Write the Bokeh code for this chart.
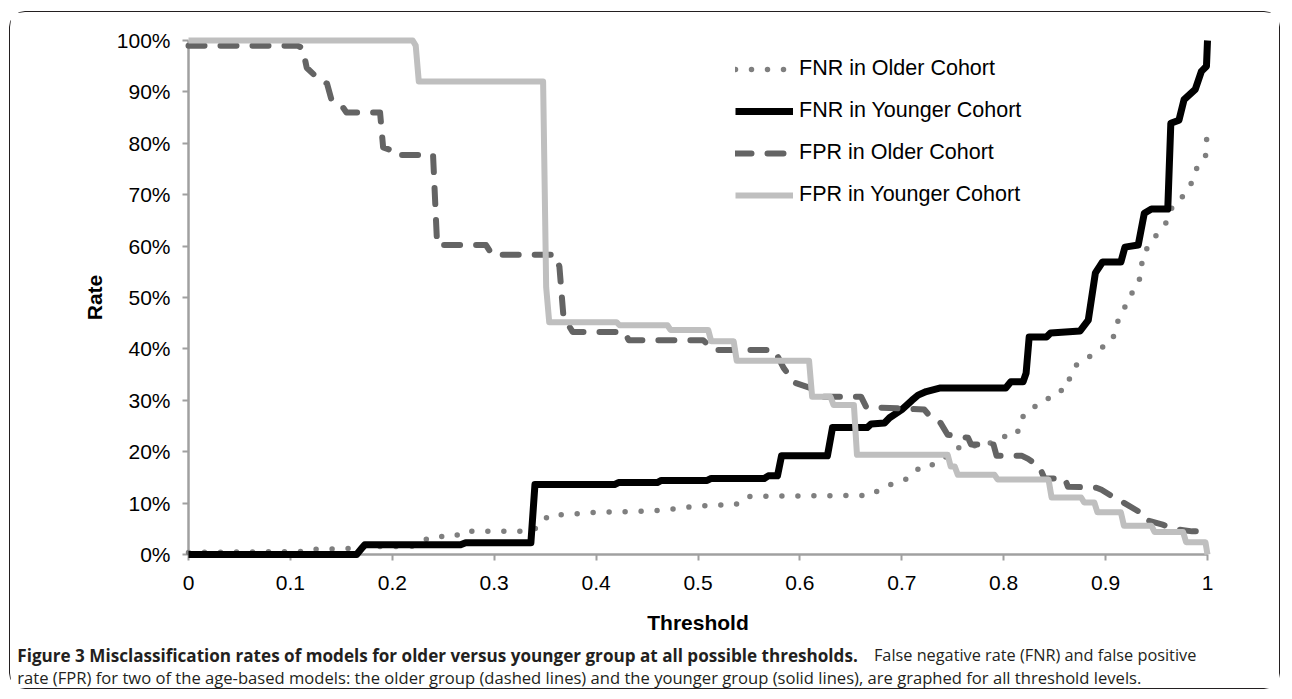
from bokeh.plotting import figure
from bokeh.models import Legend, LegendItem, FixedTicker, Range1d
from bokeh.core.properties import value
from bokeh.embed import file_html
from bokeh.resources import INLINE

# ---------------- data ----------------
x_ticks = [0, 0.1, 0.2, 0.3, 0.4, 0.5, 0.6, 0.7, 0.8, 0.9, 1]
x_tick_labels = ["0", "0.1", "0.2", "0.3", "0.4", "0.5", "0.6", "0.7", "0.8", "0.9", "1"]
y_ticks = [0, 0.1, 0.2, 0.3, 0.4, 0.5, 0.6, 0.7, 0.8, 0.9, 1]
y_tick_labels = ["0%", "10%", "20%", "30%", "40%", "50%", "60%", "70%", "80%", "90%", "100%"]

series_names = ["FNR in Older Cohort", "FNR in Younger Cohort",
                "FPR in Older Cohort", "FPR in Younger Cohort"]

fnr_old_x = [0.000, 0.120, 0.125, 0.160, 0.172, 0.220, 0.228, 0.240, 0.262, 0.268,
             0.333, 0.345, 0.353, 0.370, 0.400, 0.445, 0.470, 0.490, 0.515, 0.537,
             0.547, 0.670, 0.683, 0.699, 0.710, 0.719, 0.733, 0.756, 0.785, 0.798,
             0.813, 0.817, 0.826, 0.839, 0.849, 0.862, 0.866, 0.873, 0.885, 0.896,
             0.907, 0.910, 0.917, 0.922, 0.931, 0.935, 0.936, 0.943, 0.952, 0.960,
             0.966, 0.976, 0.984, 0.989, 0.998, 1.000]
fnr_old_y = [0.004, 0.006, 0.010, 0.012, 0.015, 0.016, 0.025, 0.035, 0.035, 0.045,
             0.045, 0.054, 0.076, 0.078, 0.082, 0.084, 0.087, 0.092, 0.096, 0.097,
             0.113, 0.115, 0.133, 0.141, 0.153, 0.173, 0.175, 0.208, 0.215, 0.229,
             0.233, 0.264, 0.285, 0.293, 0.315, 0.322, 0.353, 0.373, 0.386, 0.402,
             0.417, 0.447, 0.470, 0.500, 0.520, 0.548, 0.579, 0.604, 0.627, 0.647,
             0.680, 0.697, 0.722, 0.750, 0.773, 0.833]

fnr_young_x = [0.000, 0.165, 0.170, 0.173, 0.267, 0.272, 0.336, 0.340, 0.418, 0.422,
               0.460, 0.464, 0.509, 0.513, 0.565, 0.569, 0.578, 0.582, 0.627, 0.632,
               0.666, 0.670, 0.683, 0.688, 0.700, 0.710, 0.716, 0.724, 0.738, 0.802,
               0.807, 0.819, 0.822, 0.825, 0.842, 0.846, 0.875, 0.883, 0.890, 0.897,
               0.915, 0.919, 0.932, 0.938, 0.945, 0.961, 0.964, 0.972, 0.977, 0.988,
               0.994, 0.999, 1.000]
fnr_young_y = [0.000, 0.000, 0.012, 0.019, 0.019, 0.023, 0.023, 0.136, 0.136, 0.140,
               0.140, 0.144, 0.144, 0.148, 0.148, 0.153, 0.153, 0.192, 0.192, 0.247,
               0.247, 0.254, 0.256, 0.266, 0.282, 0.300, 0.310, 0.317, 0.324, 0.324,
               0.336, 0.336, 0.353, 0.423, 0.423, 0.431, 0.435, 0.456, 0.548, 0.569,
               0.569, 0.598, 0.602, 0.664, 0.672, 0.672, 0.839, 0.845, 0.885, 0.905,
               0.940, 0.950, 1.000]

fpr_old_x = [0.000, 0.107, 0.112, 0.116, 0.126, 0.136, 0.140, 0.149, 0.155, 0.188,
             0.191, 0.200, 0.203, 0.240, 0.244, 0.292, 0.298, 0.360, 0.364, 0.368,
             0.377, 0.428, 0.432, 0.505, 0.515, 0.575, 0.584, 0.595, 0.610, 0.620,
             0.660, 0.665, 0.722, 0.728, 0.738, 0.745, 0.765, 0.768, 0.790, 0.793,
             0.818, 0.824, 0.835, 0.840, 0.860, 0.863, 0.891, 0.896, 0.909, 0.916,
             0.933, 0.938, 0.956, 0.970, 0.985, 0.997, 1.000]
fpr_old_y = [0.990, 0.990, 0.985, 0.947, 0.928, 0.916, 0.887, 0.877, 0.860, 0.860,
             0.792, 0.786, 0.777, 0.777, 0.602, 0.602, 0.583, 0.583, 0.560, 0.462,
             0.433, 0.433, 0.417, 0.417, 0.398, 0.398, 0.363, 0.334, 0.324, 0.307,
             0.307, 0.287, 0.282, 0.268, 0.256, 0.233, 0.227, 0.214, 0.214, 0.192,
             0.192, 0.186, 0.171, 0.148, 0.148, 0.132, 0.130, 0.126, 0.110, 0.103,
             0.083, 0.068, 0.058, 0.049, 0.045, 0.045, 0.033]

fpr_young_x = [0.000, 0.220, 0.223, 0.226, 0.348, 0.351, 0.354, 0.420, 0.423, 0.470,
               0.473, 0.510, 0.513, 0.535, 0.538, 0.609, 0.612, 0.630, 0.633, 0.653,
               0.656, 0.745, 0.748, 0.752, 0.755, 0.791, 0.794, 0.844, 0.847, 0.876,
               0.879, 0.889, 0.892, 0.915, 0.918, 0.945, 0.948, 0.976, 0.979, 0.998,
               1.000]
fpr_young_y = [1.000, 1.000, 0.990, 0.920, 0.920, 0.520, 0.452, 0.452, 0.446, 0.446,
               0.437, 0.437, 0.415, 0.415, 0.377, 0.377, 0.307, 0.307, 0.291, 0.291,
               0.194, 0.194, 0.171, 0.171, 0.155, 0.155, 0.146, 0.146, 0.111, 0.111,
               0.101, 0.101, 0.082, 0.082, 0.056, 0.056, 0.044, 0.044, 0.024, 0.024,
               0.000]

caption_bold = "Figure 3 Misclassification rates of models for older versus younger group at all possible thresholds."
caption_rest1 = "False negative rate (FNR) and false positive"
caption_line2 = ("rate (FPR) for two of the age-based models: the older group (dashed lines) "
                 "and the younger group (solid lines), are graphed for all threshold levels.")

# ---------------- figure ----------------
FONT = "Liberation Sans"
CAP_FONT = "Open Sans"

p = figure(width=1271, height=678, output_backend="svg", toolbar_location=None,
           x_range=Range1d(0, 1), y_range=Range1d(0, 1),
           min_border_left=178, min_border_right=74, min_border_top=28,
           min_border_bottom=136)
p.styles = {"border": "1.5px solid #231f20", "border-radius": "16px",
            "margin-left": "9px", "margin-top": "11px"}
p.xgrid.visible = False
p.ygrid.visible = False
p.outline_line_color = None
p.background_fill_color = "white"
p.border_fill_color = "white"

for ax in (p.xaxis[0], p.yaxis[0]):
    ax.axis_line_color = "#a0a0a0"
    ax.axis_line_width = 2.5
    ax.major_tick_line_color = "#a0a0a0"
    ax.major_tick_line_width = 2
    ax.major_tick_out = 6
    ax.major_tick_in = 0
    ax.minor_tick_line_color = None
    ax.major_label_text_font = FONT
    ax.major_label_text_font_size = "21px"
    ax.major_label_text_color = "black"
    ax.axis_label_text_font = FONT
    ax.axis_label_text_font_size = "21px"
    ax.axis_label_text_font_style = "bold"
    ax.axis_label_text_color = "black"

p.xaxis.ticker = FixedTicker(ticks=x_ticks)
p.xaxis.major_label_overrides = dict(zip(x_ticks, x_tick_labels))
p.xaxis.axis_label = "Threshold"
p.xaxis.major_label_standoff = 15
p.xaxis.axis_label_standoff = 18

p.yaxis.ticker = FixedTicker(ticks=y_ticks)
p.yaxis.major_label_overrides = dict(zip(y_ticks, y_tick_labels))
p.yaxis.axis_label = "Rate"
p.yaxis.major_label_standoff = 12
p.yaxis.axis_label_standoff = 8

r1 = p.line(fnr_old_x, fnr_old_y, line_color="#7f7f7f", line_width=5.5,
            line_dash="0 16", line_cap="round", line_join="round", level="overlay")
r2 = p.line(fnr_young_x, fnr_young_y, line_color="black", line_width=7,
            line_join="round", level="overlay")
r3 = p.line(fpr_old_x, fpr_old_y, line_color="#646464", line_width=6,
            line_dash="16 16", line_cap="round", line_join="round", level="overlay")
r4 = p.line(fpr_young_x, fpr_young_y, line_color="#bfbfbf", line_width=6,
            line_join="round", level="overlay")

legend = Legend(items=[LegendItem(label=n, renderers=[r]) for n, r in
                       zip(series_names, [r1, r2, r3, r4])],
                location=(547, 347), glyph_width=58, glyph_height=24,
                label_height=24, spacing=17, padding=0, margin=0,
                label_standoff=6, border_line_color=None,
                background_fill_alpha=0, label_text_font=FONT,
                label_text_font_size="21.5px", label_text_color="black")
p.add_layout(legend)

# caption lines, drawn as text just below the plot frame
p.text(x=[-0.168], y=[-0.196], text=[caption_bold], text_align="left",
       text_baseline="middle", text_color="#231f20", text_font=value(CAP_FONT),
       text_font_style="bold", text_font_size=value("17.1px"), level="overlay")
p.text(x=[0.989], y=[-0.196], text=[caption_rest1], text_align="right",
       text_baseline="middle", text_color="#231f20", text_font=value(CAP_FONT),
       text_font_size=value("16.3px"), level="overlay")
p.text(x=[-0.168], y=[-0.240], text=[caption_line2], text_align="left",
       text_baseline="middle", text_color="#231f20", text_font=value(CAP_FONT),
       text_font_size=value("16.6px"), level="overlay")

open("out.html", "w").write(file_html(p, INLINE))
